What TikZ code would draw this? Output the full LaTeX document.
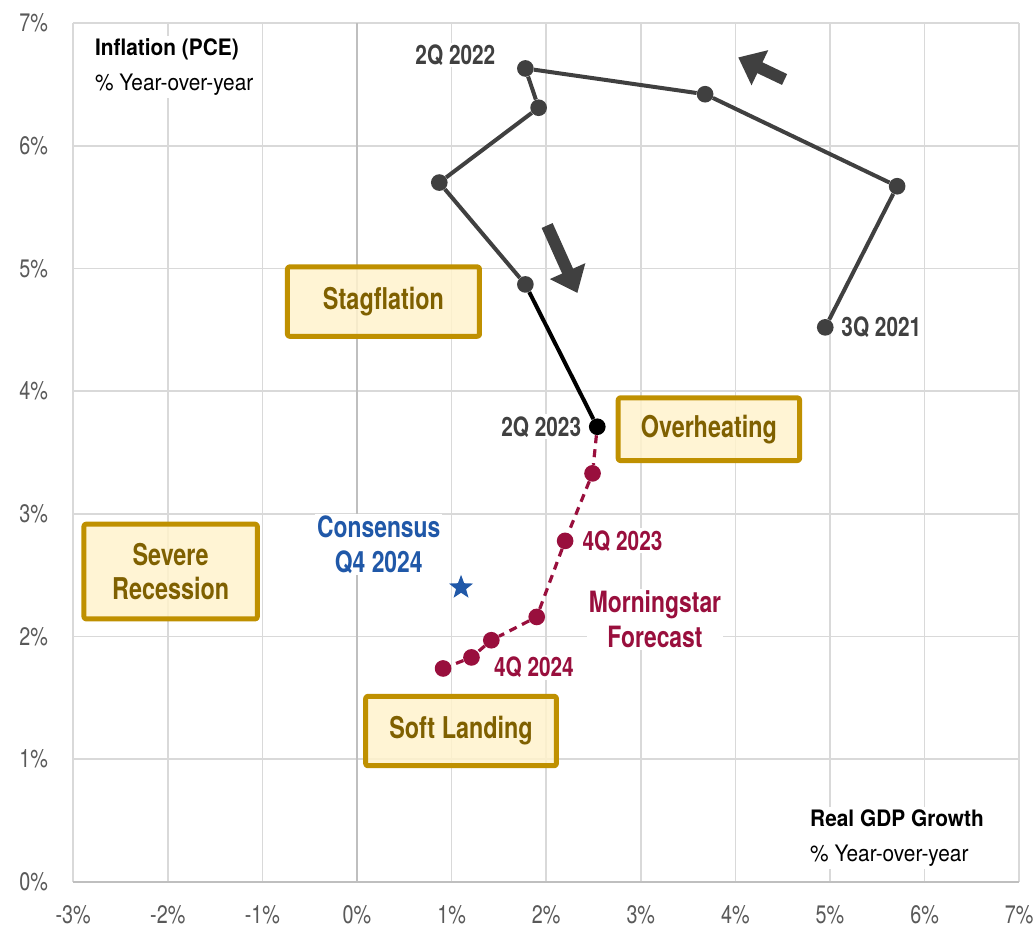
\documentclass[tikz,border=0pt]{standalone}
\usepackage{fontspec}
\setmainfont[FakeStretch=0.78]{TeX Gyre Heros}
\newfontfamily\titlefont[FakeStretch=0.92]{TeX Gyre Heros}
\usetikzlibrary{arrows.meta,positioning,shapes.geometric}

\definecolor{gridgray}{HTML}{D9D9D9}
\definecolor{axisgray}{HTML}{BFBFBF}
\definecolor{ticktext}{HTML}{595959}
\definecolor{pathgray}{HTML}{404040}
\definecolor{msred}{HTML}{990F3D}
\definecolor{consblue}{HTML}{2058A8}
\definecolor{boxfill}{HTML}{FFF2CC}
\definecolor{boxline}{HTML}{BF9000}
\definecolor{boxtext}{HTML}{7F6000}

\begin{document}
\begin{tikzpicture}[x=70.95pt,y=92.03pt,line join=round]
    \tikzstyle{ticklabel}=[text=ticktext,font=\fontsize{19}{21}\selectfont,inner sep=1pt]
    \tikzstyle{gdpdot}=[circle,fill=pathgray,minimum size=12.5pt,inner sep=0pt]
    \tikzstyle{fcdot}=[circle,fill=msred,minimum size=12.5pt,inner sep=0pt]
    \tikzstyle{region}=[draw=boxline,line width=3.75pt,fill=boxfill,fill opacity=0.85,text opacity=1,
        text=boxtext,font=\bfseries\fontsize{22.5}{26}\selectfont,align=center,rounded corners=1.5pt]
    \tikzstyle{qlabel}=[fill=white,inner sep=1.5pt,text=pathgray,font=\bfseries\fontsize{20}{23}\selectfont]
    \tikzstyle{fclabel}=[qlabel,text=msred]
    \tikzstyle{axistitle}=[fill=white,inner sep=2pt,align=left,font=\titlefont\fontsize{17}{26}\selectfont]
    \tikzstyle{bigtext}=[fill=white,inner sep=1.5pt,align=center,font=\bfseries\fontsize{22}{26}\selectfont]
    \tikzstyle{path line}=[pathgray,line width=3pt]
    \tikzstyle{fc line}=[msred,line width=2.4pt,dash pattern=on 6pt off 4.5pt]
    \tikzstyle{big arrow}=[pathgray,line width=9pt,-{Triangle[length=18pt,width=28pt]}]

    \useasboundingbox (-3.774,-0.375) rectangle (7.178,7.188);

    % Draw the grid and the axes
    \foreach \gx in {-3,...,7}
        \draw[gridgray,line width=1.2pt] (\gx,0) -- (\gx,7);
    \foreach \gy in {1,...,7}
        \draw[gridgray,line width=1.2pt] (-3,\gy) -- (7,\gy);
    \draw[axisgray,line width=1.4pt] (0,0) -- (0,7);
    \draw[axisgray,line width=1.4pt] (-3,0) -- (7,0);

    % Tick labels
    \foreach \gy in {0,...,7}
        \node[ticklabel,anchor=east] at (-3.25,\gy) {\gy\%};
    \foreach \gx in {-3,...,7}
        \node[ticklabel] at (\gx,-0.27) {\gx\%};

    % Axis titles
    \node[axistitle,anchor=west] (ytitle) at (-2.80,6.64) {\textbf{Inflation (PCE)}\\\% Year-over-year};
    \node[axistitle,anchor=west] (xtitle) at (4.76,0.36) {\textbf{Real GDP Growth}\\\% Year-over-year};

    % Regions
    \node[region,minimum width=144pt,minimum height=52pt] (stag) at (0.28,4.73) {Stagflation};
    \node[region,minimum width=136pt,minimum height=47pt] (over) at (3.72,3.69) {Overheating};
    \node[region,minimum width=130pt,minimum height=71pt] (sev) at (-1.97,2.53) {Severe\\Recession};
    \node[region,minimum width=143pt,minimum height=52pt] (soft) at (1.10,1.23) {Soft Landing};

    % Actual path, 3Q 2021 to 2Q 2023
    \node[gdpdot] (q3y21) at (4.95,4.52) {};
    \node[gdpdot] (q4y21) at (5.71,5.67) {};
    \node[gdpdot] (q1y22) at (3.68,6.42) {};
    \node[gdpdot] (q2y22) at (1.78,6.63) {};
    \node[gdpdot] (q3y22) at (1.92,6.31) {};
    \node[gdpdot] (q4y22) at (0.87,5.70) {};
    \node[gdpdot] (q1y23) at (1.78,4.87) {};
    \node[gdpdot,fill=black] (q2y23) at (2.54,3.71) {};

    \draw[path line] (q3y21) -- (q4y21) -- (q1y22) -- (q2y22) -- (q3y22) -- (q4y22) -- (q1y23);
    \draw[path line,black] (q1y23) -- (q2y23);

    % Forecast path
    \node[fcdot] (f1) at (2.49,3.33) {};
    \node[fcdot] (f2) at (2.20,2.78) {};
    \node[fcdot] (f3) at (1.90,2.16) {};
    \node[fcdot] (f4) at (1.42,1.97) {};
    \node[fcdot] (f5) at (1.21,1.83) {};
    \node[fcdot] (f6) at (0.91,1.74) {};

    \draw[fc line] (q2y23) -- (f1) -- (f2) -- (f3) -- (f4) -- (f5) -- (f6);

    % Direction arrows
    \coordinate (up tail) at (4.52,6.54);
    \coordinate (up tip) at (4.03,6.72);
    \coordinate (down tail) at (2.01,5.35);
    \coordinate (down tip) at (2.33,4.80);
    \draw[big arrow] (up tail) -- (up tip);
    \draw[big arrow] (down tail) -- (down tip);

    % Consensus
    \node[star,star points=5,star point ratio=2.4,fill=consblue,minimum size=19pt,inner sep=0pt] (cons) at (1.10,2.40) {};
    \node[bigtext,text=consblue] (cons label) at (0.23,2.75) {Consensus\\Q4 2024};

    % Annotate the points
    \node[qlabel] (l2q22) at (1.04,6.74) {2Q 2022};
    \node[qlabel,right=4pt of q3y21] (l3q21) {3Q 2021};
    \node[qlabel,left=4pt of q2y23] (l2q23) {2Q 2023};
    \node[fclabel,right=5pt of f2] (l4q23) {4Q 2023};
    \node[fclabel] (l4q24) at (1.87,1.75) {4Q 2024};
    \node[bigtext,text=msred] (ms label) at (3.15,2.14) {Morningstar\\Forecast};
\end{tikzpicture}
\end{document}
